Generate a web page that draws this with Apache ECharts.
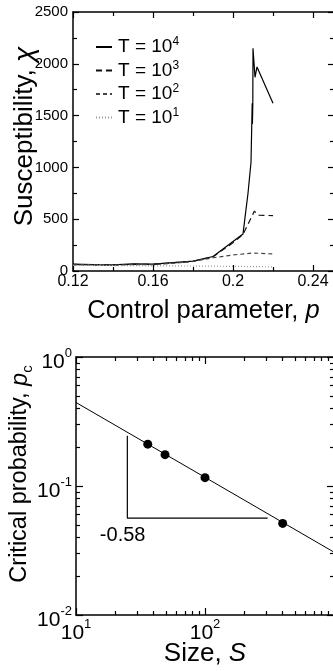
<!DOCTYPE html>
<html><head><meta charset="utf-8">
<script src="https://cdn.jsdelivr.net/npm/echarts@6/dist/echarts.min.js"></script>
<style>
html,body{margin:0;padding:0;overflow:hidden;background:#fff;width:333px;height:671px}
#c{width:345px;height:671px}
</style></head>
<body><div id="c"></div>
<script>
// ---------- top panel data (susceptibility vs control parameter) ----------
const legendNames = ['T = 10^4', 'T = 10^3', 'T = 10^2', 'T = 10^1'];
const p4   = [0.12, 0.13, 0.14, 0.15, 0.16, 0.17, 0.18, 0.19, 0.20, 0.205, 0.2075, 0.209, 0.2096, 0.2097, 0.2099, 0.21, 0.211, 0.212, 0.22];
const chi4 = [66, 62, 60, 68, 66, 80, 95, 140, 285, 358, 750, 1050, 1620, 1420, 1600, 2150, 1870, 1970, 1620];
const p3   = [0.12, 0.13, 0.14, 0.15, 0.16, 0.17, 0.18, 0.19, 0.20, 0.205, 0.2107, 0.2125, 0.22];
const chi3 = [63, 60, 58, 64, 64, 78, 93, 138, 272, 352, 578, 538, 535];
const p2   = [0.12, 0.13, 0.14, 0.15, 0.16, 0.17, 0.18, 0.19, 0.20, 0.21, 0.22];
const chi2 = [60, 58, 57, 62, 62, 75, 92, 128, 155, 174, 164];
const p1   = [0.12, 0.14, 0.16, 0.18, 0.20, 0.22];
const chi1 = [55, 53, 50, 48, 45, 40];
const xMajorTop = [0.12, 0.16, 0.2, 0.24];
const xMinorTop = [0.14, 0.18, 0.22];
const yMajorTop = [0, 500, 1000, 1500, 2000, 2500];
const yMinorTop = [250, 750, 1250, 1750, 2250];

// ---------- bottom panel data (critical probability vs size) ----------
const sizeS = [36, 49, 100, 400];
const pcVals = [0.211, 0.175, 0.116, 0.0513];
const fitS = [10, 1000];
const fitP = [0.444, 0.0307];
const triS = [25, 25, 306];
const triP = [0.245, 0.0564, 0.0564];
const slopeText = '-0.58';
const slopeAt = [23, 0.0416];
const xMinorLog = [20, 30, 40, 50, 60, 70, 80, 90, 200, 300, 400, 500, 600, 700, 800, 900];
const yMinorLog = [0.02, 0.03, 0.04, 0.05, 0.06, 0.07, 0.08, 0.09, 0.2, 0.3, 0.4, 0.5, 0.6, 0.7, 0.8, 0.9];

const FONT = "'Liberation Sans', Arial, Helvetica, sans-serif";
const zip = (a, b) => a.map((v, i) => [v, b[i]]);
const lg = a => a.map(v => Math.log10(v));

function ax(o) {
  const base = {
    splitLine: {show: false},
    nameMoveOverlap: false,
    axisLine: {show: false, onZero: false, lineStyle: {color: '#000', width: 1.5}},
    axisTick: {show: true, inside: true, length: 5, lineStyle: {color: '#000', width: 1.2}},
    axisLabel: {show: false},
  };
  const r = Object.assign({}, base, o);
  r.axisLine = Object.assign({}, base.axisLine, o.axisLine || {});
  r.axisTick = Object.assign({}, base.axisTick, o.axisTick || {});
  r.axisLabel = Object.assign({}, base.axisLabel, o.axisLabel || {});
  return r;
}

const supRich = (big, small, lh) => ({
  b: {fontSize: big, fontFamily: FONT, color: '#000', lineHeight: lh},
  s: {fontSize: small, fontFamily: FONT, color: '#000', lineHeight: small + 1, verticalAlign: 'top'}
});

const topX = {gridIndex: 0, type: 'value', min: 0.12, max: 0.2505};
const topY = {gridIndex: 0, type: 'value', min: 0, max: 2500};
const botX = {gridIndex: 1, type: 'log', logBase: 10, min: 10, max: 1000};
const botY = {gridIndex: 1, type: 'log', logBase: 10, min: 0.01, max: 1};
// tick-only helper axes in log10 space (decoration only)
const botXl = {gridIndex: 1, type: 'value', min: 1, max: 3};
const botYl = {gridIndex: 1, type: 'value', min: -2, max: 0};

const option = {
  animation: false,
  backgroundColor: '#fff',
  textStyle: {fontFamily: FONT},
  grid: [
    {left: 73, top: 12, width: 261, height: 259, outerBoundsMode: 'none', containLabel: false},
    {left: 76, top: 357, width: 258, height: 258, outerBoundsMode: 'none', containLabel: false}
  ],
  xAxis: [
    ax(Object.assign({}, topX, {position: 'bottom', axisLine: {show: true},
      axisTick: {customValues: xMajorTop, length: 6},
      axisLabel: {show: true, customValues: xMajorTop, margin: 3, fontSize: 16, color: '#000', fontFamily: FONT,
        formatter: v => String(+(+v).toFixed(2))},
      name: '{a|Control parameter, }{i|p}', nameLocation: 'middle', nameGap: 25,
      nameTextStyle: {rich: {
        a: {fontSize: 25.5, fontFamily: FONT, color: '#000', lineHeight: 30},
        i: {fontSize: 25.5, fontFamily: FONT, color: '#000', lineHeight: 30, fontStyle: 'italic'}}}})),
    ax(Object.assign({}, topX, {position: 'bottom', axisTick: {customValues: xMinorTop, length: 4}})),
    ax(Object.assign({}, topX, {position: 'top', axisLine: {show: true}, axisTick: {customValues: xMajorTop, length: 6}})),
    ax(Object.assign({}, topX, {position: 'top', axisTick: {customValues: xMinorTop, length: 4}})),
    ax(Object.assign({}, botX, {position: 'bottom', axisLine: {show: true},
      axisTick: {length: 7},
      axisLabel: {show: true, margin: 3, showMaxLabel: false,
        formatter: v => '{b|10}{s|' + Math.round(Math.log10(v)) + '}',
        rich: supRich(21, 13, 30)},
      name: '{a|Size, }{i|S}', nameLocation: 'middle', nameGap: 24,
      nameTextStyle: {rich: {
        a: {fontSize: 26, fontFamily: FONT, color: '#000', lineHeight: 30},
        i: {fontSize: 26, fontFamily: FONT, color: '#000', lineHeight: 30, fontStyle: 'italic'}}}})),
    ax(Object.assign({}, botXl, {position: 'bottom', axisTick: {customValues: lg(xMinorLog), length: 4}})),
    ax(Object.assign({}, botX, {position: 'top', axisLine: {show: true}, axisTick: {length: 7}})),
    ax(Object.assign({}, botXl, {position: 'top', axisTick: {customValues: lg(xMinorLog), length: 4}}))
  ],
  yAxis: [
    ax(Object.assign({}, topY, {position: 'left', axisLine: {show: true},
      axisTick: {customValues: yMajorTop, length: 6},
      axisLabel: {show: true, customValues: yMajorTop, margin: 5, fontSize: 15, color: '#000', fontFamily: FONT,
        formatter: v => String(v)},
      name: '{a|Susceptibility, }{i|χ}', nameLocation: 'middle', nameGap: 33,
      nameTextStyle: {padding: [0, 0, 0, 10], rich: {
        a: {fontSize: 26, fontFamily: FONT, color: '#000', lineHeight: 30},
        i: {fontSize: 28, fontFamily: FONT, color: '#000', lineHeight: 30, fontStyle: 'italic'}}}})),
    ax(Object.assign({}, topY, {position: 'left', axisTick: {customValues: yMinorTop, length: 4}})),
    ax(Object.assign({}, topY, {position: 'right', axisLine: {show: true}, axisTick: {customValues: yMajorTop, length: 6}})),
    ax(Object.assign({}, topY, {position: 'right', axisTick: {customValues: yMinorTop, length: 4}})),
    ax(Object.assign({}, botY, {position: 'left', axisLine: {show: true},
      axisTick: {length: 7},
      axisLabel: {show: true, margin: 4, padding: [10, 0, 0, 0],
        formatter: v => '{b|10}{s|' + Math.round(Math.log10(v)) + '}',
        rich: supRich(21, 13, 30)},
      name: '{a|Critical probability, }{i|p}{c|c}', nameLocation: 'middle', nameGap: 41,
      nameTextStyle: {padding: [0, 0, 0, 24], rich: {
        a: {fontSize: 23.5, fontFamily: FONT, color: '#000', lineHeight: 30},
        i: {fontSize: 23.5, fontFamily: FONT, color: '#000', lineHeight: 30, fontStyle: 'italic'},
        c: {fontSize: 15, fontFamily: FONT, color: '#000', lineHeight: 16, verticalAlign: 'bottom'}}}})),
    ax(Object.assign({}, botYl, {position: 'left', axisTick: {customValues: lg(yMinorLog), length: 4}})),
    ax(Object.assign({}, botY, {position: 'right', axisLine: {show: true}, axisTick: {length: 7}})),
    ax(Object.assign({}, botYl, {position: 'right', axisTick: {customValues: lg(yMinorLog), length: 4}}))
  ],
  legend: {
    data: legendNames,
    orient: 'vertical',
    left: 90, top: 31,
    itemWidth: 16, itemHeight: 2, itemGap: 3,
    selectedMode: false,
    itemStyle: {color: 'rgba(0,0,0,0)', borderWidth: 0},
    formatter: n => { const s = n.split('^'); return '{a|' + s[0] + '}{s|' + s[1] + '}'; },
    textStyle: {padding: [0, 0, 0, 1], rich: {
      a: {fontSize: 19, fontFamily: FONT, color: '#000', lineHeight: 22},
      s: {fontSize: 12, fontFamily: FONT, color: '#000', lineHeight: 12, verticalAlign: 'top'}}}
  },
  series: [
    {name: legendNames[0], type: 'line', xAxisIndex: 0, yAxisIndex: 0, data: zip(p4, chi4), symbol: 'none',
      lineStyle: {color: '#000', width: 1.2, type: 'solid'}, itemStyle: {color: '#000'}},
    {name: legendNames[1], type: 'line', xAxisIndex: 0, yAxisIndex: 0, data: zip(p3, chi3), symbol: 'none',
      lineStyle: {color: '#111', width: 1.2, type: [6, 4]}, itemStyle: {color: '#111'}},
    {name: legendNames[2], type: 'line', xAxisIndex: 0, yAxisIndex: 0, data: zip(p2, chi2), symbol: 'none',
      lineStyle: {color: '#444', width: 1.2, type: [4, 3]}, itemStyle: {color: '#444'}},
    {name: legendNames[3], type: 'line', xAxisIndex: 0, yAxisIndex: 0, data: zip(p1, chi1), symbol: 'none',
      lineStyle: {color: '#999', width: 1.2, type: [1, 2]}, itemStyle: {color: '#999'}},
    {name: 'fit', type: 'line', xAxisIndex: 4, yAxisIndex: 4, data: zip(fitS, fitP), symbol: 'none',
      lineStyle: {color: '#000', width: 1}},
    {name: 'slope', type: 'line', xAxisIndex: 4, yAxisIndex: 4, data: zip(triS, triP), symbol: 'none',
      lineStyle: {color: '#000', width: 1.2}},
    {name: 'pc', type: 'scatter', xAxisIndex: 4, yAxisIndex: 4, data: zip(sizeS, pcVals), symbol: 'circle',
      symbolSize: 9, itemStyle: {color: '#000', opacity: 1}},
    {name: 'slopeLabel', type: 'scatter', xAxisIndex: 4, yAxisIndex: 4, data: [slopeAt], symbolSize: 0,
      itemStyle: {opacity: 1},
      label: {show: true, position: 'inside', formatter: slopeText, fontSize: 20, fontFamily: FONT, color: '#000', opacity: 1}}
  ]
};
const chart = echarts.init(document.getElementById('c'), null, {renderer: 'canvas'});
chart.setOption(option);
</script>
</body></html>
